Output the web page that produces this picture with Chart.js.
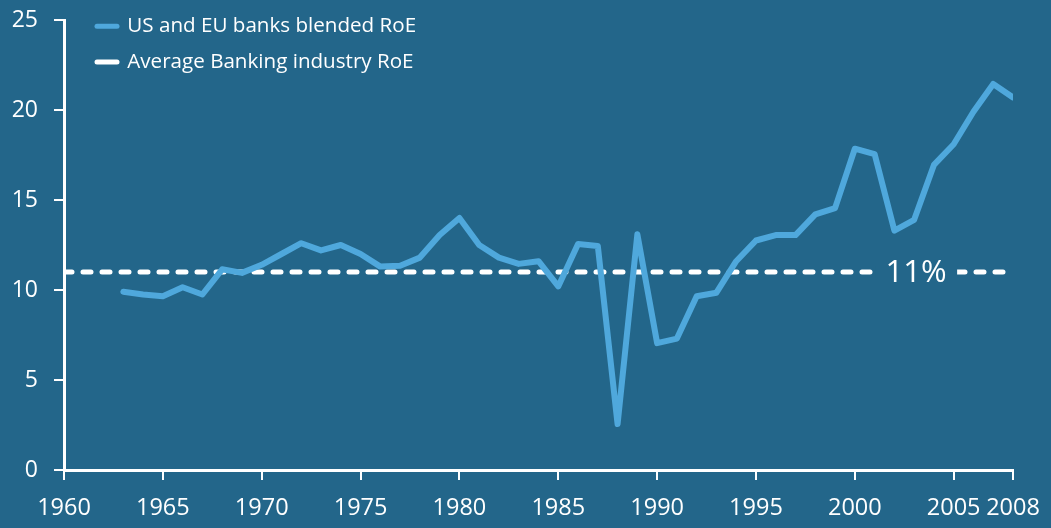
<!DOCTYPE html>
<html>
<head>
<meta charset="utf-8">
<script src="https://cdn.jsdelivr.net/npm/chart.js@4/dist/chart.umd.min.js"></script>
<style>
  body { margin: 0; background: #23668a; }
  #roeChart { display: block; }
</style>
</head>
<body>
<canvas id="roeChart" width="1051" height="528"></canvas>
<script>
const years = [1963, 1964, 1965, 1966, 1967, 1968, 1969, 1970, 1971, 1972,
               1973, 1974, 1975, 1976, 1977, 1978, 1979, 1980, 1981, 1982,
               1983, 1984, 1985, 1986, 1987, 1988, 1989, 1990, 1991, 1992,
               1993, 1994, 1995, 1996, 1997, 1998, 1999, 2000, 2001, 2002,
               2003, 2004, 2005, 2006, 2007, 2008];
const bankRoE = [9.9, 9.75, 9.65, 10.15, 9.75, 11.15, 10.95, 11.4, 12.0, 12.6,
                 12.2, 12.5, 12.0, 11.3, 11.35, 11.8, 13.05, 14.0, 12.5, 11.8,
                 11.45, 11.6, 10.2, 12.55, 12.45, 2.55, 13.1, 7.05, 7.3, 9.65,
                 9.85, 11.6, 12.75, 13.05, 13.05, 14.2, 14.55, 17.85, 17.55, 13.3,
                 13.9, 16.95, 18.1, 19.9, 21.45, 20.7];
const avgYears = [1960, 2008];
const avgRoE = [11, 11];
const avgLabel = '11%';
const avgLabelYear = 2003.1;
const xTickLabels = [1960, 1965, 1970, 1975, 1980, 1985, 1990, 1995, 2000, 2005, 2008];
const yTickLabels = [0, 5, 10, 15, 20, 25];

const BG = '#23668a';
const BLUE = '#4fa8dc';
const WHITE = '#ffffff';

// puts the legend at the top left, inside the plot
const legendPlace = {
    id: 'legendPlace',
    afterLayout(chart) {
        const lg = chart.legend;
        lg.left = chart.chartArea.left + 18;
        lg.top = 1;
    }
};

// "11%" written over the dashed line
const avgText = {
    id: 'avgText',
    afterDatasetsDraw(chart) {
        const ctx = chart.ctx;
        const x = chart.scales.x.getPixelForValue(avgLabelYear);
        const y = chart.scales.y.getPixelForValue(avgRoE[0]);
        ctx.save();
        ctx.fillStyle = BG;
        ctx.fillRect(x - 41, y - 6, 82, 12);
        ctx.fillStyle = WHITE;
        ctx.font = '31px "Open Sans"';
        ctx.textAlign = 'center';
        ctx.textBaseline = 'middle';
        ctx.fillText(avgLabel, x, y + 1);
        ctx.restore();
    }
};

const ctx = document.getElementById('roeChart').getContext('2d');
const chart = new Chart(ctx, {
    type: 'line',
    data: {
        datasets: [{
            label: 'US and EU banks blended RoE',
            data: years.map((yr, i) => ({x: yr, y: bankRoE[i]})),
            borderColor: BLUE,
            backgroundColor: BLUE,
            borderWidth: 6,
            borderJoinStyle: 'round',
            borderCapStyle: 'round',
            pointRadius: 0,
            tension: 0,
            fill: false
        },
        {
            label: 'Average Banking industry RoE',
            data: avgYears.map((yr, i) => ({x: yr, y: avgRoE[i]})),
            borderColor: WHITE,
            backgroundColor: WHITE,
            borderWidth: 5,
            borderDash: [8, 11],
            borderCapStyle: 'round',
            pointRadius: 0,
            fill: false
        }]
    },
    options: {
        responsive: false,
        animation: false,
        layout: { padding: { top: 20, right: 38, left: 0, bottom: 0 } },
        plugins: {
            tooltip: { enabled: false },
            legend: {
                position: 'chartArea',
                align: 'start',
                labels: {
                    color: WHITE,
                    font: { family: '"Open Sans"', size: 20.6 },
                    usePointStyle: true,
                    pointStyle: 'line',
                    pointStyleWidth: 20,
                    boxHeight: 20,
                    padding: 15,
                    generateLabels(chart) {
                        const items = Chart.defaults.plugins.legend.labels.generateLabels(chart);
                        items.forEach(it => { it.lineDash = []; it.lineCap = 'round'; it.lineWidth = 5; });
                        return items;
                    }
                }
            }
        },
        scales: {
            x: {
                type: 'linear',
                min: 1960,
                max: 2008,
                afterBuildTicks: (scale) => { scale.ticks = xTickLabels.map(v => ({value: v})); },
                afterFit: (scale) => {
                    scale.height = 58;
                    scale.paddingLeft = 0;
                    scale.paddingRight = 0;
                },
                grid: { display: true, drawOnChartArea: false, drawTicks: true, tickLength: 10, color: WHITE, lineWidth: 2 },
                border: { display: true, color: WHITE, width: 3 },
                ticks: {
                    color: WHITE,
                    font: { family: '"Open Sans"', size: 23.5 },
                    padding: 14,
                    maxRotation: 0,
                    autoSkip: false,
                    callback: (v) => String(v)
                }
            },
            y: {
                min: 0,
                max: 25,
                afterBuildTicks: (scale) => { scale.ticks = yTickLabels.map(v => ({value: v})); },
                afterFit: (scale) => {
                    scale.width = 64;
                    scale.paddingTop = 0;
                    scale.paddingBottom = 0;
                },
                grid: { display: true, drawOnChartArea: false, drawTicks: true, tickLength: 10, color: WHITE, lineWidth: 2 },
                border: { display: true, color: WHITE, width: 3 },
                ticks: {
                    color: WHITE,
                    font: { family: '"Open Sans"', size: 23 },
                    padding: 16
                }
            }
        }
    },
    plugins: [legendPlace, avgText]
});
</script>
</body>
</html>
